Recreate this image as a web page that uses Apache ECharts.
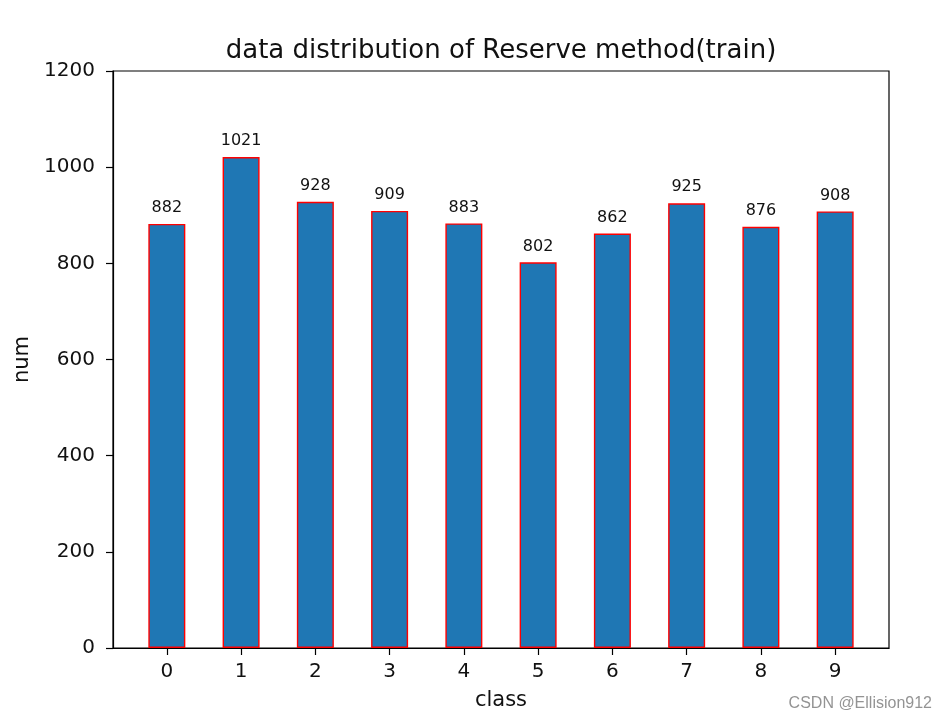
<!DOCTYPE html>
<html>
<head>
<meta charset="utf-8">
<script src="https://cdn.jsdelivr.net/npm/echarts@6/dist/echarts.min.js"></script>
<style>html,body{margin:0;padding:0;background:#fff}#c{width:949px;height:719px}</style>
</head>
<body>
<div id="c"></div>
<script>
var categories = ['0','1','2','3','4','5','6','7','8','9'];
var counts = [882, 1021, 928, 909, 883, 802, 862, 925, 876, 908];
var yTicks = [0, 200, 400, 600, 800, 1000, 1200];
var titleText = 'data distribution of Reserve method(train)';
var xName = 'class';
var yName = 'num';
var watermark = 'CSDN @Ellision912';

var xPos = categories.map(function (c, i) { return i; });
var barData = categories.map(function (c, i) { return [i, counts[i]]; });
var F = 'DejaVu Sans';

var chart = echarts.init(document.getElementById('c'), null, {renderer: 'canvas'});
chart.setOption({
  animation: false,
  backgroundColor: '#fff',
  title: {
    text: titleText, left: 496, top: 33, textAlign: 'center',
    textStyle: {fontFamily: F, fontSize: 26, fontWeight: 'normal', color: '#111'}
  },
  grid: {left: 113, right: 60, top: 71, bottom: 71, show: true, borderColor: '#000', borderWidth: 1.2, backgroundColor: 'transparent'},
  xAxis: {
    type: 'value', min: -0.725, max: 9.725,
    name: xName, nameLocation: 'middle', nameGap: 42,
    nameTextStyle: {fontFamily: F, fontSize: 21, color: '#111'},
    splitLine: {show: false},
    axisLine: {show: true, onZero: false, lineStyle: {color: '#000', width: 1.2}},
    axisTick: {show: true, length: 7, customValues: xPos, lineStyle: {color: '#000', width: 1.2}},
    axisLabel: {customValues: xPos, margin: 14, fontFamily: F, fontSize: 20, color: '#111',
      formatter: function (v) { return categories[Math.round(v)]; }}
  },
  yAxis: {
    type: 'value', min: 0, max: 1200, interval: 200,
    name: yName, nameLocation: 'middle', nameGap: 76,
    nameTextStyle: {fontFamily: F, fontSize: 21, color: '#111'},
    splitLine: {show: false},
    axisLine: {show: true, onZero: false, lineStyle: {color: '#000', width: 1.2}},
    axisTick: {show: true, length: 7, lineStyle: {color: '#000', width: 1.2}},
    axisLabel: {margin: 18, fontFamily: F, fontSize: 20, color: '#111',
      customValues: yTicks, formatter: function (v) { return String(v); }}
  },
  series: [{
    type: 'bar',
    data: barData,
    barWidth: 37,
    itemStyle: {color: '#1f77b4', borderColor: '#ff0000', borderWidth: 1.4},
    label: {show: true, position: 'top', distance: 8, fontFamily: F, fontSize: 16, color: '#111',
      formatter: function (p) { return String(p.value[1]); }}
  }],
  graphic: [{
    type: 'text', right: 17, top: 696,
    style: {text: watermark, fontFamily: 'Liberation Sans', fontSize: 16, fill: 'rgba(120,120,120,0.8)'}
  }]
});
</script>
</body>
</html>
